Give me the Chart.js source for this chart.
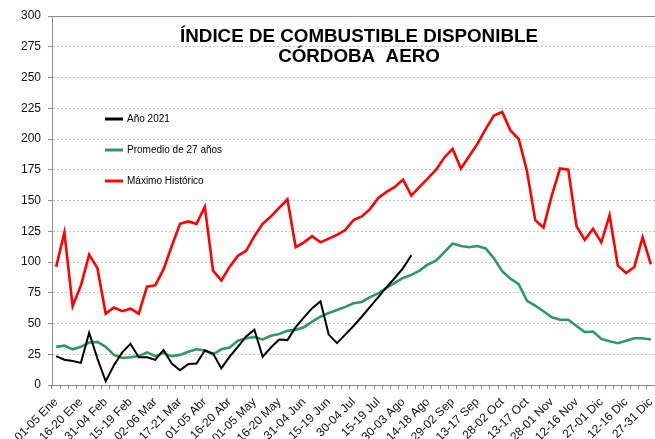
<!DOCTYPE html>
<html><head><meta charset="utf-8">
<script src="https://cdn.jsdelivr.net/npm/chart.js@4/dist/chart.umd.min.js"></script>
<style>html,body{margin:0;padding:0;background:#fff}#wrap{width:655px;height:439px;position:relative}</style>
</head><body><div id="wrap"><canvas id="c" width="655" height="439"></canvas></div>
<script>
const titleLines = ['ÍNDICE DE COMBUSTIBLE DISPONIBLE', 'CÓRDOBA  AERO'];

const categories = [
 '01-05 Ene','06-10 Ene','11-15 Ene','16-20 Ene','21-25 Ene','26-30 Ene',
 '31-04 Feb','05-09 Feb','10-14 Feb','15-19 Feb','20-24 Feb','25-01 Mar',
 '02-06 Mar','07-11 Mar','12-16 Mar','17-21 Mar','22-26 Mar','27-31 Mar',
 '01-05 Abr','06-10 Abr','11-15 Abr','16-20 Abr','21-25 Abr','26-30 Abr',
 '01-05 May','06-10 May','11-15 May','16-20 May','21-25 May','26-30 May',
 '31-04 Jun','05-09 Jun','10-14 Jun','15-19 Jun','20-24 Jun','25-29 Jun',
 '30-04 Jul','05-09 Jul','10-14 Jul','15-19 Jul','20-24 Jul','25-29 Jul',
 '30-03 Ago','04-08 Ago','09-13 Ago','14-18 Ago','19-23 Ago','24-28 Ago',
 '29-02 Sep','03-07 Sep','08-12 Sep','13-17 Sep','18-22 Sep','23-27 Sep',
 '28-02 Oct','03-07 Oct','08-12 Oct','13-17 Oct','18-22 Oct','23-27 Oct',
 '28-01 Nov','02-06 Nov','07-11 Nov','12-16 Nov','17-21 Nov','22-26 Nov',
 '27-01 Dic','02-06 Dic','07-11 Dic','12-16 Dic','17-21 Dic','22-26 Dic',
 '27-31 Dic'
];

const yTicks = [0,25,50,75,100,125,150,175,200,225,250,275,300];

const seriesNames = ['Año 2021', 'Promedio de 27 años', 'Máximo Histórico'];

const anio2021 = [23.5,20.5,19.5,18,42.5,21.5,3,16,26.5,33.5,22.5,22.5,20.5,28.5,17.5,12,17,17.5,
 28,25.5,13.5,23,31,39.5,45,23,30.5,37,36.5,47,55,62.5,68,41,34,41,48,55.5,63.5,71.5,79.5,87,95,105.5];

const promedio = [31,32,29,31,34.5,35,31,24.5,22,22.5,23.5,26.5,23.5,26,23.5,24.5,27,29,
 28,25,29,30.5,36,38,39,37,40,41.5,44,45,47,51.5,55.5,58.5,61,63.5,66.5,67.5,71.5,74.5,
 79,83,87,89.5,93,98,101,108,115,113,112,113,111,103,92.5,86.5,82,68.5,64.5,60,55,53,53,
 48,43,43.5,37.5,35.5,34,36,38,38,37];

const maximo = [96,124,64,81,106,95,58,63,60,62,58,80,81,94,113,131,133,131,145,93,85,96,
 105,109,121,131,137,144,151,112,116,121,116,119,122,126,134,137,143,152,157,161,167,154,
 161,168,175,185,192,176,186,196,208,219,222,207,200,174,134,128,154,176,175,129,118,127,
 116,138,97,91,96,120,98];

const colors = ['#000000', '#2e9960', '#ff0000'];
const FONT = '"Liberation Sans", Arial, sans-serif';

const overlay = {
  id: 'overlay',
  beforeDatasetsDraw(chart) {
    const { ctx, chartArea } = chart;
    ctx.save();
    ctx.strokeStyle = '#8c8c8c';
    ctx.lineWidth = 1;
    ctx.beginPath();
    ctx.moveTo(chartArea.left, Math.round(chartArea.top) + 0.5);
    ctx.lineTo(chartArea.right, Math.round(chartArea.top) + 0.5);
    ctx.stroke();
    ctx.restore();
  },
  afterDraw(chart) {
    const ctx = chart.ctx;
    ctx.save();
    ctx.fillStyle = '#000';
    ctx.textAlign = 'center';
    ctx.textBaseline = 'middle';
    ctx.font = 'bold 18.8px ' + FONT;
    ctx.fillText(titleLines[0], 359, 37);
    ctx.fillText(titleLines[1], 359, 57);
    ctx.font = '10px ' + FONT;
    ctx.textAlign = 'left';
    const ys = [119, 150, 181];
    chart.data.datasets.forEach((ds, i) => {
      ctx.strokeStyle = ds.borderColor;
      ctx.lineWidth = 3;
      ctx.beginPath();
      ctx.moveTo(105, ys[i]);
      ctx.lineTo(123, ys[i]);
      ctx.stroke();
      ctx.fillStyle = '#000';
      ctx.fillText(ds.label, 127, ys[i] + 0.5);
    });
    ctx.restore();
  }
};

new Chart(document.getElementById('c'), {
  type: 'line',
  data: {
    labels: categories,
    datasets: [
      { label: seriesNames[0], data: anio2021, borderColor: colors[0], borderWidth: 2, pointRadius: 0, tension: 0, fill: false },
      { label: seriesNames[1], data: promedio, borderColor: colors[1], borderWidth: 2.6, pointRadius: 0, tension: 0, fill: false },
      { label: seriesNames[2], data: maximo, borderColor: colors[2], borderWidth: 2.6, pointRadius: 0, tension: 0, fill: false }
    ]
  },
  options: {
    responsive: false,
    animation: false,
    devicePixelRatio: 1,
    layout: { padding: { top: 16, right: -4, left: 0, bottom: 0 } },
    plugins: { legend: { display: false }, title: { display: false }, tooltip: { enabled: false } },
    scales: {
      x: {
        type: 'category',
        offset: true,
        grid: { display: true, offset: true, drawOnChartArea: false, drawTicks: true, tickLength: 4, color: '#8c8c8c', tickColor: '#8c8c8c' },
        border: { display: true, color: '#8c8c8c', width: 1 },
        ticks: {
          autoSkip: false, maxRotation: 45, minRotation: 45, padding: 6, color: '#111',
          font: { size: 12, family: FONT },
          callback: (v, i) => (i % 3 === 0 ? categories[i] : '')
        },
        afterFit: s => { s.height = 54; s.paddingLeft = 0; s.paddingRight = 0; }
      },
      y: {
        min: 0, max: 300,
        afterBuildTicks: s => { s.ticks = yTicks.map(v => ({ value: v })); },
        grid: { display: true, color: '#c4c4c4', tickColor: '#8c8c8c', tickLength: 4, lineWidth: 1, drawTicks: true },
        border: { display: true, color: '#8c8c8c', width: 1, dash: [2, 2] },
        ticks: { color: '#111', padding: 7, font: { size: 12, family: FONT } },
        afterFit: s => { s.width = 52; s.paddingTop = 0; s.paddingBottom = 0; }
      }
    }
  },
  plugins: [overlay]
});
</script>
</body></html>
